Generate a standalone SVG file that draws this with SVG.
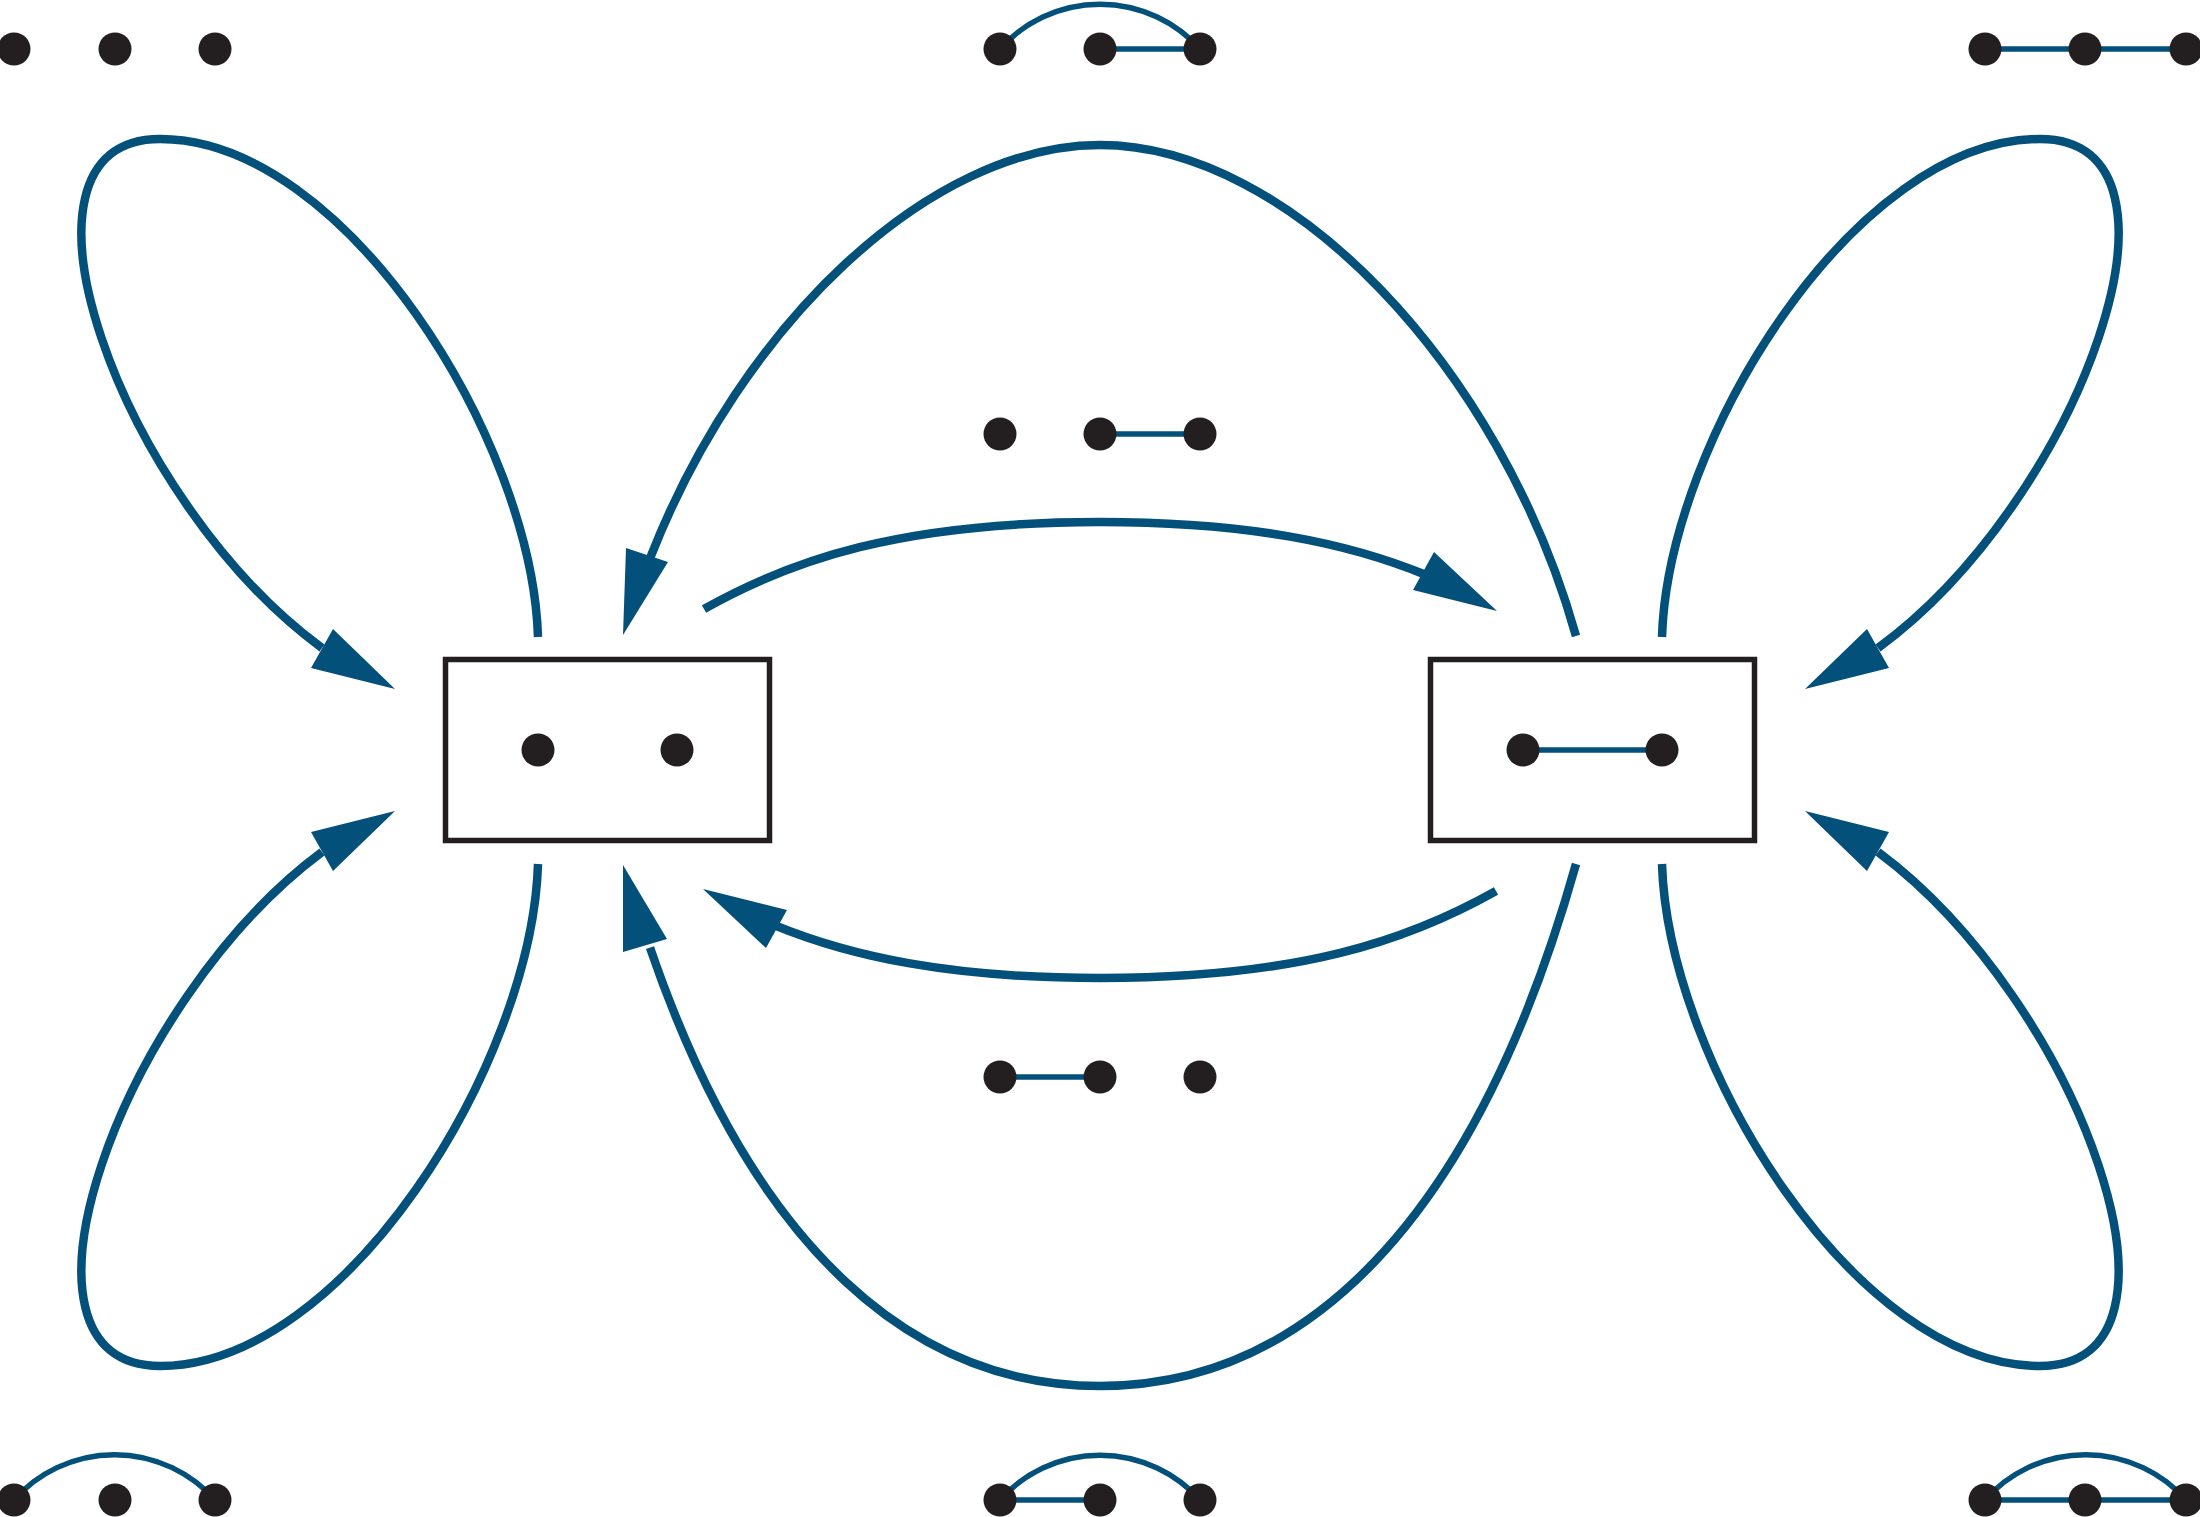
<svg xmlns="http://www.w3.org/2000/svg" width="2200" height="1517" viewBox="0 0 2200 1517">
<defs>
<style>
.box{fill:#fff;stroke:#231f20;stroke-width:5.5}
.dot{fill:#231f20}
.e{fill:none;stroke:#03517b;stroke-width:5.5}
.c{fill:none;stroke:#03517b;stroke-width:8.5}
.ah{fill:#03517b;stroke:none}
</style>
</defs>
<rect width="2200" height="1517" fill="#fff"/>
<g id="connectors">
<path class="c" d="M538,637 C532,440 345,139 160,139 C-10,139 120,500 322,648"/>
<polygon class="ah" points="395,689 333,629 311,668"/>
<path class="c" d="M1662,637 C1668,440 1855,139 2040,139 C2210,139 2080,500 1878,648"/>
<polygon class="ah" points="1805,689 1867,629 1889,668"/>
<path class="c" d="M538,864 C532,1062 345,1366 160,1366 C-10,1366 120,1002 322,852"/>
<polygon class="ah" points="395,811 333,871 311,832"/>
<path class="c" d="M1662,864 C1668,1062 1855,1366 2040,1366 C2210,1366 2080,1002 1878,852"/>
<polygon class="ah" points="1805,811 1867,871 1889,832"/>
<path class="c" d="M1576,636 C1500.4,367.2 1290,145 1100,145 C929,145 741.4,325 650.6,556.9"/>
<polygon class="ah" points="623,635 626,548 668,562"/>
<path class="c" d="M1576,864 C1473.4,1228.8 1300,1386 1100,1386 C916,1386 754.5,1253 650,947.6"/>
<polygon class="ah" points="623,865 623,952 667,939"/>
<path class="c" d="M704,609 C791,560 900,522 1100,522 C1250,522 1348.8,543.4 1425.5,574.8"/>
<polygon class="ah" points="1497,611 1434,552 1413,590"/>
<path class="c" d="M1496,891 C1409,940 1300,978 1100,978 C950,978 851.2,956.6 774.5,925.2"/>
<polygon class="ah" points="703,889 766,948 787,910"/>
</g>
<g id="state-left">
<rect class="box" x="445.5" y="659.5" width="324" height="181"/>
<circle class="dot" cx="538" cy="750" r="16.5"/>
<circle class="dot" cx="677" cy="750" r="16.5"/>
</g>
<g id="state-right">
<rect class="box" x="1430.5" y="659.5" width="324" height="181"/>
<line class="e" x1="1523" y1="750" x2="1662" y2="750"/>
<circle class="dot" cx="1523" cy="750" r="16.5"/>
<circle class="dot" cx="1662" cy="750" r="16.5"/>
</g>
<g id="graph-top-left">
<circle class="dot" cx="14" cy="49" r="16.5"/>
<circle class="dot" cx="115" cy="49" r="16.5"/>
<circle class="dot" cx="215" cy="49" r="16.5"/>
</g>
<g id="graph-top-middle">
<path class="e" d="M1000,49 A134,134 0 0 1 1200,49"/>
<line class="e" x1="1100" y1="49" x2="1200" y2="49"/>
<circle class="dot" cx="1000" cy="49" r="16.5"/>
<circle class="dot" cx="1100" cy="49" r="16.5"/>
<circle class="dot" cx="1200" cy="49" r="16.5"/>
</g>
<g id="graph-top-right">
<line class="e" x1="1985" y1="49" x2="2186" y2="49"/>
<circle class="dot" cx="1985" cy="49" r="16.5"/>
<circle class="dot" cx="2085" cy="49" r="16.5"/>
<circle class="dot" cx="2186" cy="49" r="16.5"/>
</g>
<g id="graph-center-top">
<line class="e" x1="1100" y1="434" x2="1200" y2="434"/>
<circle class="dot" cx="1000" cy="434" r="16.5"/>
<circle class="dot" cx="1100" cy="434" r="16.5"/>
<circle class="dot" cx="1200" cy="434" r="16.5"/>
</g>
<g id="graph-center-bottom">
<line class="e" x1="1000" y1="1077" x2="1100" y2="1077"/>
<circle class="dot" cx="1000" cy="1077" r="16.5"/>
<circle class="dot" cx="1100" cy="1077" r="16.5"/>
<circle class="dot" cx="1200" cy="1077" r="16.5"/>
</g>
<g id="graph-bottom-left">
<path class="e" d="M14,1500 A134,134 0 0 1 215,1500"/>
<circle class="dot" cx="14" cy="1500" r="16.5"/>
<circle class="dot" cx="115" cy="1500" r="16.5"/>
<circle class="dot" cx="215" cy="1500" r="16.5"/>
</g>
<g id="graph-bottom-middle">
<path class="e" d="M1000,1500 A134,134 0 0 1 1200,1500"/>
<line class="e" x1="1000" y1="1500" x2="1100" y2="1500"/>
<circle class="dot" cx="1000" cy="1500" r="16.5"/>
<circle class="dot" cx="1100" cy="1500" r="16.5"/>
<circle class="dot" cx="1200" cy="1500" r="16.5"/>
</g>
<g id="graph-bottom-right">
<path class="e" d="M1985,1500 A134,134 0 0 1 2186,1500"/>
<line class="e" x1="1985" y1="1500" x2="2186" y2="1500"/>
<circle class="dot" cx="1985" cy="1500" r="16.5"/>
<circle class="dot" cx="2085" cy="1500" r="16.5"/>
<circle class="dot" cx="2186" cy="1500" r="16.5"/>
</g>
</svg>
